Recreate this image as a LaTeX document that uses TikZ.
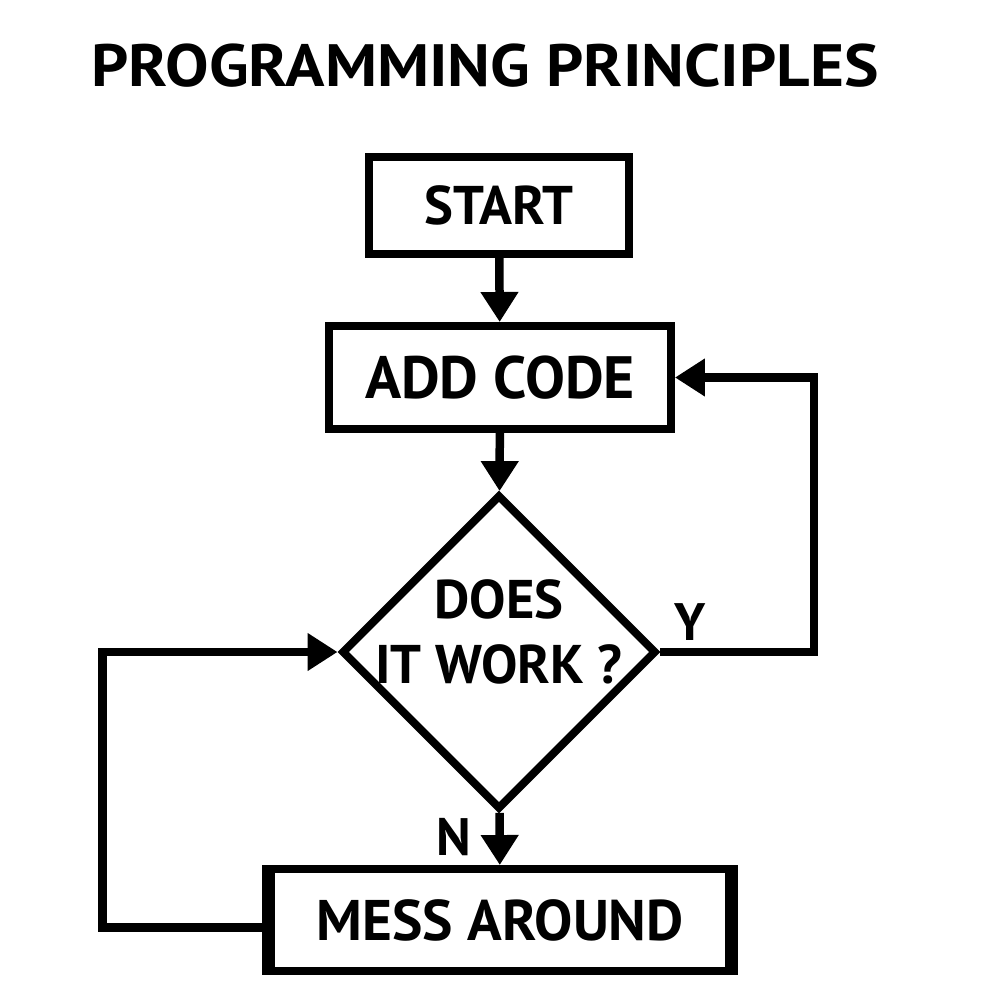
\documentclass[tikz,border=0pt]{standalone}
\usepackage{fontspec}
\setmainfont{PT Sans}
\newfontfamily\ttlfont{PT Sans}[FakeStretch=1.09]
\usetikzlibrary{shapes.geometric,arrows.meta}
\begin{document}
\begin{tikzpicture}[x=0.02cm,y=-0.02cm,
    box/.style={draw,line width=0.16cm,inner sep=0pt},
    flow/.style={line width=0.17cm,-{Triangle[width=0.72cm,length=0.6cm]}}]
\useasboundingbox (0,0) rectangle (1000,1000);

\node (tt) [font=\ttlfont\bfseries\fontsize{34}{40}\selectfont] at (485,66) {PROGRAMMING PRINCIPLES};

\node (st) [box,minimum width=5.2cm,minimum height=1.94cm,
    font=\bfseries\fontsize{31}{36}\selectfont] at (499,205.5) {START};
\node (ac) [box,minimum width=6.84cm,minimum height=2.06cm,
    font=\bfseries\fontsize{34}{40}\selectfont] at (500,377.5) {ADD CODE};
\node (dw) [box,diamond,minimum width=6.3cm,minimum height=6.3cm,
    label={[align=center,yshift=0.4cm,font=\bfseries\fontsize{31}{37.4}\selectfont]center:DOES\\IT WORK ?}]
    at (499,652) {};
\node (ma) [box,minimum width=9.36cm,minimum height=2.04cm,
    font=\bfseries\fontsize{32.6}{38}\selectfont] at (500,920) {MESS AROUND};
% heavier sides of the last box
\draw[line width=0.26cm] ([xshift=0.13cm]ma.north west) -- ([xshift=0.13cm]ma.south west);
\draw[line width=0.26cm] ([xshift=-0.13cm]ma.north east) -- ([xshift=-0.13cm]ma.south east);

\node (yl) [font=\bfseries\fontsize{30}{36}\selectfont] at (690,622) {Y};
\node (nl) [font=\bfseries\fontsize{30}{36}\selectfont] at (454,837) {N};

\coordinate (yc) at (814,377.5);
\coordinate (nc) at (102.5,652);

\draw[flow] (st) -- (ac);
\draw[flow] (ac) -- (dw);
\draw[flow] (dw) -- (ma);
\draw[flow] (dw.east) -| (yc) -- (ac.east);
\draw[flow] ([yshift=-0.15cm]ma.west) -| (nc) -- (dw.west);
\end{tikzpicture}
\end{document}
